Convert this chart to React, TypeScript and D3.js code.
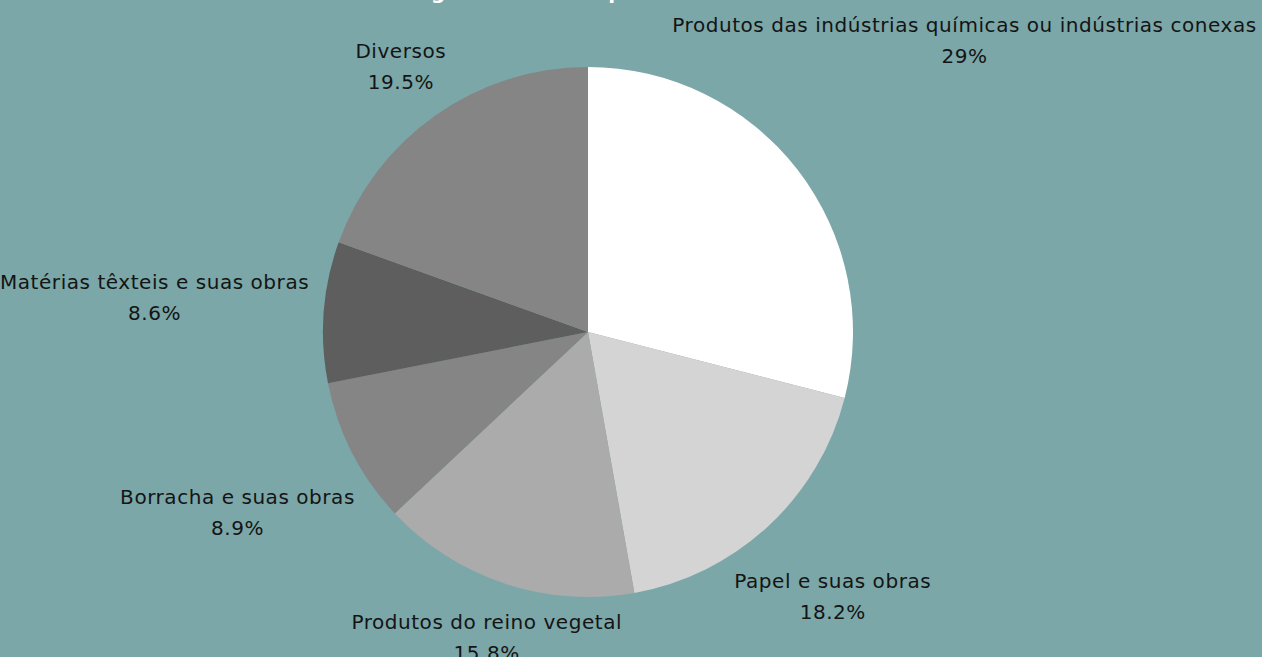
import React, { useMemo } from "react";
import * as d3 from "d3";

const categories = [
  "Produtos das indústrias químicas ou indústrias conexas",
  "Papel e suas obras",
  "Produtos do reino vegetal",
  "Borracha e suas obras",
  "Matérias têxteis e suas obras",
  "Diversos",
];
const values = [29, 18.2, 15.8, 8.9, 8.6, 19.5];
const sliceColors = ["#ffffff", "#d4d4d4", "#ababab", "#858585", "#5e5e5e", "#858585"];
const title = "Figura 1 - Principais setores em 2021";

const W = 1262;
const H = 657;
const CX = 588;
const CY = 332;
const R = 265;
const LABEL_R = 279;
const FONT = "DejaVu Sans";
const FS = 20;
const LS = 0.55;
const BOX_H = 52;

function measure(text: string, font: string): number {
  const c = document.createElement("canvas");
  const ctx = c.getContext("2d")!;
  ctx.font = font;
  return ctx.measureText(text).width + LS * text.length;
}

function distToBox(cx: number, cy: number, w: number, h: number) {
  const nx = Math.max(cx - w / 2, Math.min(0, cx + w / 2));
  const ny = Math.max(cy - h / 2, Math.min(0, cy + h / 2));
  return Math.hypot(nx, ny);
}

export default function App() {
  const pie = d3.pie<number>().sort(null).value((d) => d);
  const arcs = pie(values);
  const arcGen = d3.arc<d3.PieArcDatum<number>>().innerRadius(0).outerRadius(R);

  const labels = useMemo(() => {
    return arcs.map((a, i) => {
      const mid = (a.startAngle + a.endAngle) / 2;
      const dx = Math.sin(mid);
      const dy = -Math.cos(mid);
      const pct = `${values[i]}%`;
      const font = `${FS}px "${FONT}"`;
      const w = Math.max(measure(categories[i], font), measure(pct, font));
      let t = 0;
      while (distToBox(t * dx, t * dy, w, BOX_H) < LABEL_R && t < 2000) t += 0.5;
      let x = t * dx;
      let y = t * dy;
      const minX = -CX + w / 2;
      const maxX = W - CX - w / 2;
      x = Math.max(minX, Math.min(maxX, x));
      const sy = dy >= 0 ? 1 : -1;
      while (distToBox(x, y, w, BOX_H) < LABEL_R) y += sy * 0.5;
      return { x: CX + x, y: CY + y, name: categories[i], pct };
    });
  }, []);

  return (
    <svg
      width={W}
      height={H}
      style={{ position: "absolute", left: 0, top: 0, display: "block" }}
    >
      <rect x={0} y={0} width={W} height={H} fill="#7ba7a8" />
      <text
        x={408}
        y={-1}
        fill="#ffffff"
        fontFamily={FONT}
        fontWeight="bold"
        fontSize={20}
        letterSpacing={1.2}
      >
        {title}
      </text>
      <g transform={`translate(${CX},${CY})`}>
        {arcs.map((a, i) => (
          <path key={i} d={arcGen(a) as string} fill={sliceColors[i]} />
        ))}
      </g>
      {labels.map((l, i) => (
        <text
          key={i}
          fontFamily={FONT}
          fontSize={FS}
          letterSpacing={LS}
          fill="#141414"
          textAnchor="middle"
        >
          <tspan x={l.x} y={l.y - BOX_H / 2 + 18}>
            {l.name}
          </tspan>
          <tspan x={l.x} y={l.y - BOX_H / 2 + 49}>
            {l.pct}
          </tspan>
        </text>
      ))}
    </svg>
  );
}
